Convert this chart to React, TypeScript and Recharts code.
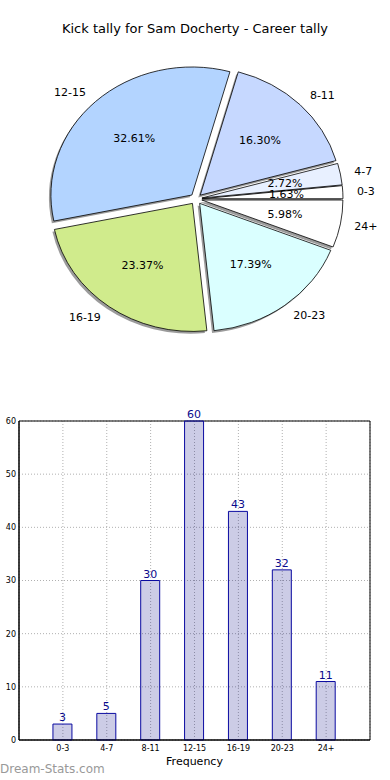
import React from "react";
import { PieChart, Pie, Cell, Sector, BarChart, Bar, XAxis, YAxis, CartesianGrid, LabelList, ReferenceArea } from "recharts";

const categories = ["0-3", "4-7", "8-11", "12-15", "16-19", "20-23", "24+"];
const kicks = [3, 5, 30, 60, 43, 32, 11];
const sliceColors = ["#ffffff", "#e8f0ff", "#c6d8ff", "#b3d4ff", "#d0eb8c", "#daffff", "#ffffff"];
const yTicks = [0, 10, 20, 30, 40, 50, 60];

const pieData = categories.map((c, i) => ({ name: c, value: kicks[i] }));
const barData = categories.map((c, i) => ({ pos: i + 1, name: c, value: kicks[i] }));

const RAD = Math.PI / 180;
const K = 0.908; // vertical squash, the original pie is an ellipse
const EXPLODE = 6;
const FONT = "'DejaVu Sans', sans-serif";

const squash = (cy: number) => `translate(0,${cy}) scale(1,${K}) translate(0,${-cy})`;

function Wedge(props: any) {
  const { cx, cy, startAngle, endAngle, outerRadius, fill } = props;
  const mid = (startAngle + endAngle) / 2;
  const dx = EXPLODE * Math.cos(mid * RAD);
  const dy = -EXPLODE * Math.sin(mid * RAD);
  return (
    <g transform={squash(cy)}>
      <Sector cx={cx + dx} cy={cy + dy} innerRadius={0} outerRadius={outerRadius}
        startAngle={startAngle} endAngle={endAngle} fill={fill}
        stroke="#000" strokeWidth={0.8} vectorEffect="non-scaling-stroke" />
    </g>
  );
}

function ShadowWedge(props: any) {
  const { cx, cy, startAngle, endAngle, outerRadius } = props;
  const mid = (startAngle + endAngle) / 2;
  const dx = EXPLODE * Math.cos(mid * RAD) - 2;
  const dy = -EXPLODE * Math.sin(mid * RAD) + 2.5;
  return (
    <g transform={squash(cy)}>
      <Sector cx={cx + dx} cy={cy + dy} innerRadius={0} outerRadius={outerRadius}
        startAngle={startAngle} endAngle={endAngle} fill="#7a7a7a" fillOpacity={0.75} stroke="none" />
    </g>
  );
}

function renderLabel(props: any) {
  const { cx, cy, midAngle, outerRadius, name, percent } = props;
  const c = Math.cos(midAngle * RAD);
  const s = Math.sin(midAngle * RAD);
  const outR = outerRadius * 1.1 + EXPLODE;
  const inR = outerRadius * 0.6 + EXPLODE;
  return (
    <g>
      <text x={cx + outR * c} y={cy - outR * s * K} textAnchor={c >= 0 ? "start" : "end"}
        dominantBaseline="central" fontSize={11} fontFamily={FONT} fill="#000">{name}</text>
      <text x={cx + inR * c} y={cy - inR * s * K} textAnchor="middle"
        dominantBaseline="central" fontSize={11} fontFamily={FONT} fill="#000">{(percent * 100).toFixed(2)}%</text>
    </g>
  );
}

export default function App() {
  return (
    <div style={{ position: "absolute", left: 0, top: 0, width: 390, height: 780, background: "#fff", fontFamily: FONT }}>
      <div style={{ position: "absolute", top: 21, width: 390, textAlign: "center", fontSize: 13, color: "#000" }}>
        Kick tally for Sam Docherty - Career tally
      </div>
      <div style={{ position: "absolute", left: 0, top: 0 }}>
        <PieChart width={390} height={400} margin={{ top: 0, right: 0, bottom: 0, left: 0 }}>
          <Pie data={pieData} dataKey="value" nameKey="name" cx={196} cy={199} outerRadius={141}
            startAngle={0} endAngle={360} shape={ShadowWedge} isAnimationActive={false} />
          <Pie data={pieData} dataKey="value" nameKey="name" cx={196} cy={199} outerRadius={141}
            startAngle={0} endAngle={360} shape={Wedge} label={renderLabel} labelLine={false}
            isAnimationActive={false}>
            {pieData.map((d, i) => <Cell key={d.name} fill={sliceColors[i]} />)}
          </Pie>
        </PieChart>
      </div>
      <div style={{ position: "absolute", left: 0, top: 400 }}>
        <BarChart width={390} height={380} data={barData} margin={{ top: 21, right: 20, left: 0, bottom: 0 }}>
          <CartesianGrid stroke="#b0b0b0" strokeDasharray="1 2" />
          <XAxis dataKey="pos" type="number" domain={[0, 8]} ticks={[1, 2, 3, 4, 5, 6, 7]}
            tickFormatter={(v: number) => categories[v - 1]} height={40} tickLine={false}
            axisLine={{ stroke: "#000" }} tick={{ fill: "#000", fontSize: 8, fontFamily: FONT }}
            tickSize={3} tickMargin={2}
            label={{ value: "Frequency", position: "insideBottom", offset: 15, fontSize: 11, fill: "#000", fontFamily: FONT }} />
          <YAxis domain={[0, 60]} ticks={yTicks} width={19} tickLine={false} interval={0}
            axisLine={{ stroke: "#000" }} tick={{ fill: "#000", fontSize: 8, fontFamily: FONT }}
            tickSize={0} tickMargin={3} />
          <ReferenceArea x1={0} x2={8} y1={0} y2={60} fill="none" stroke="#000" strokeWidth={1} ifOverflow="visible" />
          <Bar dataKey="value" barSize={19} fill="#000080" fillOpacity={0.2} stroke="#0a0aa0" strokeWidth={1}
            isAnimationActive={false}>
            <LabelList dataKey="value" position="top" offset={3} style={{ fill: "#0a0a8c", fontSize: 11, fontFamily: FONT }} />
          </Bar>
        </BarChart>
      </div>
      <div style={{ position: "absolute", left: 0, top: 762, fontSize: 12, color: "#999" }}>
        Dream-Stats.com
      </div>
    </div>
  );
}
